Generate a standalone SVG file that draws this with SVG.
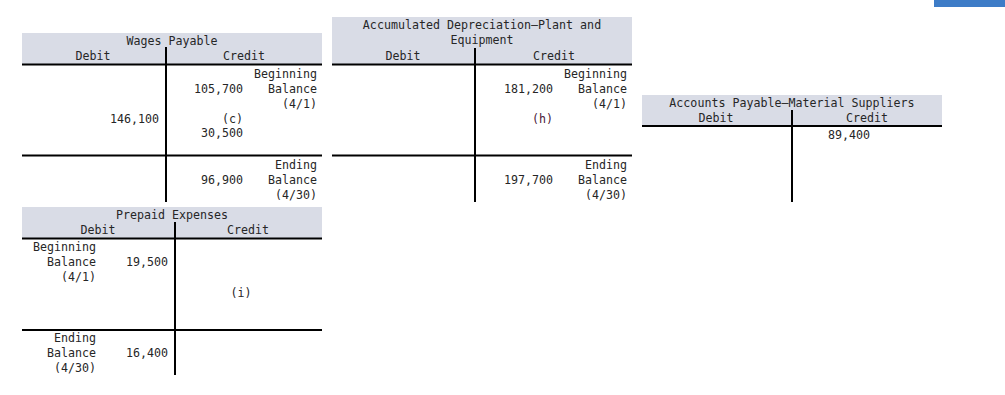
<svg xmlns="http://www.w3.org/2000/svg" width="1005" height="395" viewBox="0 0 1005 395">
<style>
text{font-family:"DejaVu Sans Mono","Liberation Mono",monospace;font-size:11.65px;fill:#262626}
.c{text-anchor:middle}
.r{text-anchor:end}
.hd{fill:#d9dce6}
.ln{stroke:#000;stroke-width:2;fill:none}
</style>
<rect x="934" y="0" width="71" height="7" fill="#3d7cc7"/>
<g id="wages">
<rect class="hd" x="22" y="33" width="300" height="31"/>
<text class="c" x="172" y="45">Wages Payable</text>
<text class="c" x="93" y="60">Debit</text>
<text class="c" x="244" y="60">Credit</text>
<path class="ln" d="M22 64.5H322M22 155.5H322M166 47V202"/>
<text class="r" x="317" y="78">Beginning</text>
<text class="r" x="243" y="93">105,700</text>
<text class="r" x="317" y="93">Balance</text>
<text class="r" x="317" y="108">(4/1)</text>
<text class="r" x="159" y="123">146,100</text>
<text class="r" x="243" y="123">(c)</text>
<text class="r" x="243" y="137">30,500</text>
<text class="r" x="317" y="169">Ending</text>
<text class="r" x="243" y="184">96,900</text>
<text class="r" x="317" y="184">Balance</text>
<text class="r" x="317" y="199">(4/30)</text>
</g>
<g id="accumdep">
<rect class="hd" x="332" y="17" width="300" height="47"/>
<text class="c" x="482" y="29">Accumulated Depreciation—Plant and</text>
<text class="c" x="482" y="44">Equipment</text>
<text class="c" x="403" y="60">Debit</text>
<text class="c" x="554" y="60">Credit</text>
<path class="ln" d="M332 64.5H632M332 155.5H632M475 48V202"/>
<text class="r" x="627" y="78">Beginning</text>
<text class="r" x="553" y="93">181,200</text>
<text class="r" x="627" y="93">Balance</text>
<text class="r" x="627" y="108">(4/1)</text>
<text class="r" x="553" y="123" style="fill:#4a2038">(h)</text>
<text class="r" x="627" y="169">Ending</text>
<text class="r" x="553" y="184">197,700</text>
<text class="r" x="627" y="184">Balance</text>
<text class="r" x="627" y="199">(4/30)</text>
</g>
<g id="apayable">
<rect class="hd" x="642" y="95" width="300" height="31"/>
<text class="c" x="792" y="107">Accounts Payable—Material Suppliers</text>
<text class="c" x="716" y="122">Debit</text>
<text class="c" x="867" y="122">Credit</text>
<path class="ln" d="M642 126H942M792 110V202"/>
<text x="828" y="139">89,400</text>
</g>
<g id="prepaid">
<rect class="hd" x="22" y="207" width="300" height="31"/>
<text class="c" x="172" y="219">Prepaid Expenses</text>
<text class="c" x="98" y="234">Debit</text>
<text class="c" x="248" y="234">Credit</text>
<path class="ln" d="M22 238.5H322M22 330H322M175 222V375"/>
<text class="r" x="96" y="251">Beginning</text>
<text class="r" x="96" y="266">Balance</text>
<text class="r" x="168" y="266">19,500</text>
<text class="r" x="96" y="281">(4/1)</text>
<text class="c" x="241" y="297">(i)</text>
<text class="r" x="96" y="342">Ending</text>
<text class="r" x="96" y="357">Balance</text>
<text class="r" x="168" y="357">16,400</text>
<text class="r" x="96" y="372">(4/30)</text>
</g>
<g id="connectors"></g>
</svg>
